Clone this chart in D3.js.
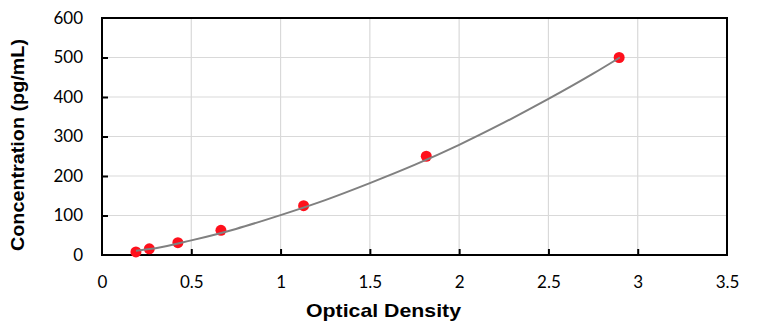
<!DOCTYPE html>
<html><head><meta charset="utf-8">
<script src="https://cdn.jsdelivr.net/npm/d3@7"></script>
<style>body{margin:0;background:#fff}svg{display:block}</style>
</head><body>
<script>
const od = [0.19, 0.265, 0.425, 0.666, 1.129, 1.816, 2.896];
const conc = [7.81, 15.63, 31.25, 62.5, 125, 250, 500];
const fitX = [0.19, 0.3, 0.5, 0.75, 1.0, 1.25, 1.5, 1.75, 2.0, 2.25, 2.5, 2.75, 2.9];
const fitY = [11, 17, 37, 66, 101, 139, 182, 228, 279, 335, 395, 459, 500];
const xTicks = [0, 0.5, 1, 1.5, 2, 2.5, 3, 3.5];
const yTicks = [0, 100, 200, 300, 400, 500, 600];

const W = 762, H = 324;
const m = {l: 102, r: 35, t: 18, b: 69};
const svg = d3.select("body").append("svg").attr("width", W).attr("height", H);
const x = d3.scaleLinear().domain([0, 3.5]).range([m.l, W - m.r]);
const y = d3.scaleLinear().domain([0, 600]).range([H - m.b, m.t]);

// grid
svg.append("g").selectAll("line").data(xTicks.slice(1, -1)).join("line")
  .attr("x1", d => x(d)).attr("x2", d => x(d)).attr("y1", y(0)).attr("y2", y(600))
  .attr("stroke", "#d9d9d9").attr("stroke-width", 1.2);
svg.append("g").selectAll("line").data(yTicks.slice(1, -1)).join("line")
  .attr("x1", x(0)).attr("x2", x(3.5)).attr("y1", d => y(d)).attr("y2", d => y(d))
  .attr("stroke", "#d9d9d9").attr("stroke-width", 1.2);

// axes with inward ticks
const tickFont = "Lato, 'Open Sans', sans-serif";
const xa = svg.append("g").attr("transform", `translate(0,${y(0)})`)
  .call(d3.axisBottom(x).tickValues(xTicks).tickSizeInner(-6).tickSizeOuter(0).tickPadding(21).tickFormat(d3.format("~g")));
const ya = svg.append("g").attr("transform", `translate(${x(0)},0)`)
  .call(d3.axisLeft(y).tickValues(yTicks).tickSizeInner(-6).tickSizeOuter(0).tickPadding(19).tickFormat(d3.format("d")));
[xa, ya].forEach(g => {
  g.select(".domain").remove();
  g.selectAll(".tick line").attr("stroke", "#000").attr("stroke-width", 2);
  g.selectAll(".tick text").attr("font-family", tickFont).attr("font-size", 17).attr("fill", "#000");
});
xa.selectAll(".tick").filter(d => d === 0 || d === 3.5).select("line").remove();
ya.selectAll(".tick").filter(d => d === 0 || d === 600).select("line").remove();

// frame
svg.append("rect").attr("x", x(0)).attr("y", y(600)).attr("width", x(3.5) - x(0)).attr("height", y(0) - y(600))
  .attr("fill", "none").attr("stroke", "#000").attr("stroke-width", 2);

// points
svg.append("g").selectAll("circle").data(od).join("circle")
  .attr("cx", d => x(d)).attr("cy", (d, i) => y(conc[i])).attr("r", 5.5).attr("fill", "#ff101c");

// fit curve
const line = d3.line().x(d => x(d[0])).y(d => y(d[1])).curve(d3.curveMonotoneX);
svg.append("path").datum(fitX.map((d, i) => [d, fitY[i]])).attr("d", line)
  .attr("fill", "none").attr("stroke", "#808080").attr("stroke-width", 2);

// titles
svg.append("text").attr("x", 383.5).attr("y", 317).attr("text-anchor", "middle")
  .attr("font-family", "'Liberation Sans', Arial, sans-serif").attr("font-weight", "bold").attr("font-size", 19)
  .attr("textLength", 155).attr("lengthAdjust", "spacingAndGlyphs")
  .text("Optical Density");
svg.append("text").attr("transform", `translate(24,145) rotate(-90)`).attr("text-anchor", "middle")
  .attr("font-family", "'Liberation Sans', Arial, sans-serif").attr("font-weight", "bold").attr("font-size", 19)
  .attr("textLength", 212).attr("lengthAdjust", "spacingAndGlyphs")
  .text("Concentration (pg/mL)");
</script>
</body></html>
